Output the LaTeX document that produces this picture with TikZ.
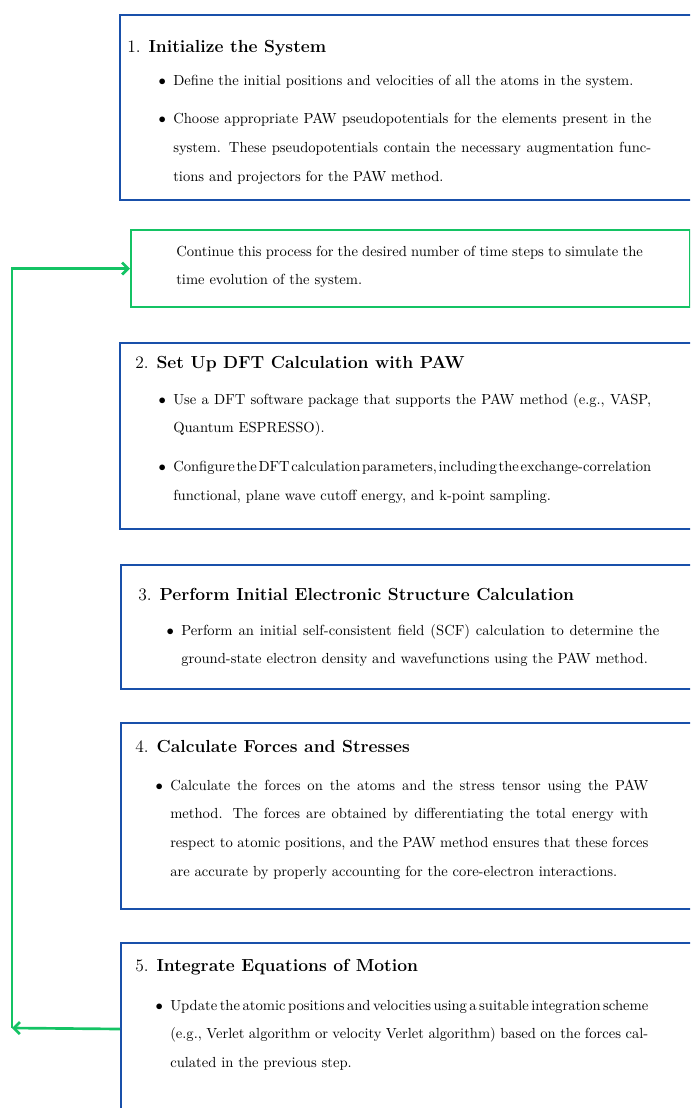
\documentclass[tikz,border=0pt]{standalone}
\usepackage{amssymb}
\usepackage{amsmath}
\usepackage{color}
\usepackage{tikz}
\usetikzlibrary{arrows.meta}

\definecolor{stepblue}{RGB}{25,80,170}
\definecolor{loopgreen}{RGB}{20,195,100}

% bullet hung to the left of the text block
\newcommand{\itembullet}{\leavevmode\llap{$\bullet$\hspace{5.5pt}}}
\newcommand{\nextitem}{\par\vspace{7.5pt}\itembullet}
% one line set with narrow word spaces, then a forced break
\newcommand{\tightline}[1]{{\spaceskip=1.5pt plus 3pt minus 0.5pt #1}\linebreak}

\begin{document}
\begin{tikzpicture}[x=0.75pt,y=-0.75pt,>={Straight Barb[length=4.5pt,width=9pt]}]
                \tikzstyle{stepbox}=[rectangle,draw=stepblue,line width=1.5pt,anchor=north west,minimum width=440pt,inner sep=0pt]
                \tikzstyle{heading}=[anchor=base west,inner sep=0pt,font=\fontsize{13.1}{15}\selectfont]
                \tikzstyle{body}=[anchor=base west,inner sep=0pt,text width=358.5pt,align=justify,font=\fontsize{10.95}{21.5}\selectfont]
                \tikzstyle{feedback}=[draw=loopgreen,line width=2pt]
                \clip (0,0) rectangle (690,1108);

                % frames of the five steps
                \foreach \num/\x/\y/\h in {1/119/14/138.75, 2/119/342/139.5, 3/120/564/93, 4/120/722/139.5, 5/120/942/129}
                    \node[stepbox,minimum height=\h pt] (S-\num) at (\x,\y) {};

                    \node[stepbox,draw=loopgreen,minimum width=419.25pt,minimum height=57.75pt] (C) at (130,229) {};

                % step headings
                \node[heading] (H-1) at (127,52) {1.\hspace{6pt}\textbf{Initialize the System}};
                \node[heading] (H-2) at (135,368) {2.\hspace{6pt}\textbf{Set Up DFT Calculation with PAW}};
                \node[heading] (H-3) at (138,600) {3.\hspace{6pt}\textbf{Perform Initial Electronic Structure Calculation}};
                \node[heading] (H-4) at (135,752) {4.\hspace{6pt}\textbf{Calculate Forces and Stresses}};
                \node[heading] (H-5) at (135,971) {5.\hspace{6pt}\textbf{Integrate Equations of Motion}};

                % step texts
                \node[body] (T-1) at (173,85) {\itembullet Define the initial positions and velocities of all the atoms in the system.
                    \nextitem Choose appropriate PAW pseudopotentials for the elements present in the system. These pseudopotentials contain the necessary augmentation functions and projectors for the PAW method.};
                \node[body,text width=350pt] (T-C) at (176,256) {Continue this process for the desired number of time steps to simulate the time evolution of the system.};
                \node[body] (T-2) at (173,404) {\itembullet Use a DFT software package that supports the PAW method (e.g., VASP, Quantum ESPRESSO).
                    \nextitem \tightline{Configure the DFT calculation parameters, including the exchange-correlation} functional, plane wave cutoff energy, and k-point sampling.};
                \node[body] (T-3) at (181,635) {\itembullet Perform an initial self-consistent field (SCF) calculation to determine the ground-state electron density and wavefunctions using the PAW method.};
                \node[body] (T-4) at (170,790) {\itembullet Calculate the forces on the atoms and the stress tensor using the PAW method. The forces are obtained by differentiating the total energy with respect to atomic positions, and the PAW method ensures that these forces are accurate by properly accounting for the core-electron interactions.};
                \node[body] (T-5) at (170,1010) {\itembullet \tightline{Update the atomic positions and velocities using a suitable integration scheme} (e.g., Verlet algorithm or velocity Verlet algorithm) based on the forces cal-\linebreak culated in the previous step.};

                % back to the start of the loop
                \coordinate (L) at (12,1028);
                \draw[feedback,->] (S-5.west) -- (L);
                \draw[feedback,->] (L) |- (C.west);
\end{tikzpicture}
\end{document}
